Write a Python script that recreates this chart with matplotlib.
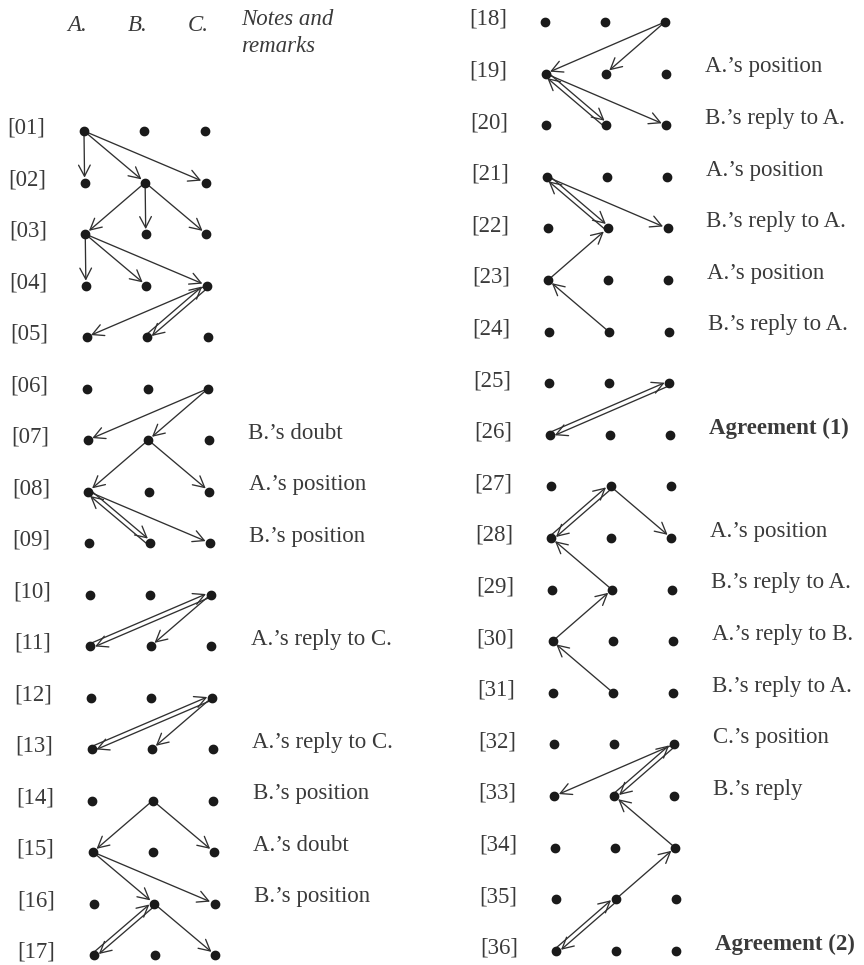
import matplotlib
matplotlib.use('Agg')
import matplotlib.pyplot as plt
import numpy as np
from matplotlib.patches import FancyArrowPatch

plt.rcParams['font.family'] = ['Liberation Serif', 'DejaVu Serif']

participants = ['A.', 'B.', 'C.']
col = {'A': 0, 'B': 1, 'C': 2}
left_steps = list(range(1, 18))
right_steps = list(range(18, 37))

# (from step, from participant, to step, to participant)
left_single = [
    (1, 'A', 2, 'A'), (1, 'A', 2, 'B'), (1, 'A', 2, 'C'),
    (2, 'B', 3, 'A'), (2, 'B', 3, 'B'), (2, 'B', 3, 'C'),
    (3, 'A', 4, 'A'), (3, 'A', 4, 'B'), (3, 'A', 4, 'C'),
    (4, 'C', 5, 'A'),
    (6, 'C', 7, 'A'), (6, 'C', 7, 'B'),
    (7, 'B', 8, 'A'), (7, 'B', 8, 'C'),
    (8, 'A', 9, 'C'),
    (10, 'C', 11, 'B'),
    (12, 'C', 13, 'B'),
    (14, 'B', 15, 'A'), (14, 'B', 15, 'C'),
    (15, 'A', 16, 'B'), (15, 'A', 16, 'C'),
    (16, 'B', 17, 'C'),
]
left_pairs = [(4, 'C', 5, 'B'), (8, 'A', 9, 'B'), (10, 'C', 11, 'A'),
              (12, 'C', 13, 'A'), (16, 'B', 17, 'A')]

right_single = [
    (18, 'C', 19, 'A'), (18, 'C', 19, 'B'), (19, 'A', 20, 'C'),
    (21, 'A', 22, 'C'), (23, 'A', 22, 'B'), (24, 'B', 23, 'A'),
    (27, 'B', 28, 'C'), (29, 'B', 28, 'A'), (30, 'A', 29, 'B'),
    (31, 'B', 30, 'A'), (32, 'C', 33, 'A'), (34, 'C', 33, 'B'),
    (35, 'B', 34, 'C'),
]
right_pairs = [(19, 'A', 20, 'B'), (21, 'A', 22, 'B'), (25, 'C', 26, 'A'),
               (27, 'B', 28, 'A'), (32, 'C', 33, 'B'), (36, 'A', 35, 'B')]

notes = {
    7: "B.’s doubt", 8: "A.’s position", 9: "B.’s position",
    11: "A.’s reply to C.", 13: "A.’s reply to C.", 14: "B.’s position",
    15: "A.’s doubt", 16: "B.’s position",
    19: "A.’s position", 20: "B.’s reply to A.", 21: "A.’s position",
    22: "B.’s reply to A.", 23: "A.’s position", 24: "B.’s reply to A.",
    26: "Agreement (1)", 28: "A.’s position", 29: "B.’s reply to A.",
    30: "A.’s reply to B.", 31: "B.’s reply to A.", 32: "C.’s position",
    33: "B.’s reply", 36: "Agreement (2)",
}
bold_notes = [26, 36]

ink = '#303030'
text_c = '#3a3a3a'
fs = 16.5

fig = plt.figure(figsize=(8.64, 9.65), dpi=100)
axL = fig.add_axes([0, 0, 0.5, 1])
axR = fig.add_axes([0.5, 0, 0.5, 1])
axL.set_xlim(-1.388, 5.752)
axL.set_ylim(17.194, -1.544)
axR.set_xlim(-1.883, 5.317)
axR.set_ylim(36.275, 17.574)
for ax in (axL, axR):
    ax.axis('off')

drift = 0.0105  # slight skew of the scanned page


def xy(step, p, first):
    return col[p] + drift * (step - first), step


def arrow(ax, a, b, shrinkB=3.5):
    ax.add_patch(FancyArrowPatch(a, b, arrowstyle='->,head_length=0.8,head_width=0.42',
                                 mutation_scale=10, shrinkA=1, shrinkB=shrinkB,
                                 lw=0.95, color=ink, zorder=2))


def draw_panel(ax, steps, singles, pairs):
    first = steps[0]
    for s in steps:
        xs = [xy(s, p, first)[0] for p in 'ABC']
        ax.plot(xs, [s] * 3, 'o', ms=6, color='#1a1a1a', zorder=3)
        ax.text(-0.95 + drift * (s - first), s - 0.05, f'[{s:02d}]', ha='center',
                va='center', fontsize=fs, color=text_c)
        if s in notes:
            ax.text(2.65 + drift * (s - first), s - 0.13, notes[s], ha='left',
                    va='center', fontsize=fs, color=text_c,
                    fontweight='bold' if s in bold_notes else 'normal')
    for s0, p0, s1, p1 in singles:
        arrow(ax, xy(s0, p0, first), xy(s1, p1, first))
    inv = ax.transData.inverted()
    for s0, p0, s1, p1 in pairs:
        a = ax.transData.transform(xy(s0, p0, first))
        b = ax.transData.transform(xy(s1, p1, first))
        d = (b - a) / np.hypot(*(b - a))
        n = np.array([-d[1], d[0]]) * 2.3
        arrow(ax, tuple(inv.transform(a + n)), tuple(inv.transform(b + n)), 3)
        arrow(ax, tuple(inv.transform(b - n)), tuple(inv.transform(a - n)), 3)


draw_panel(axL, left_steps, left_single, left_pairs)
draw_panel(axR, right_steps, right_single, right_pairs)

for i, name in enumerate(participants):
    axL.text(i - 0.12, -1.05, name, ha='center', va='center', fontsize=fs,
             style='italic', color=text_c)
axL.text(2.6, -1.17, 'Notes and', ha='left', va='center', fontsize=fs,
         style='italic', color=text_c)
axL.text(2.6, -0.64, 'remarks', ha='left', va='center', fontsize=fs,
         style='italic', color=text_c)

fig.savefig('out.png', dpi=100)
